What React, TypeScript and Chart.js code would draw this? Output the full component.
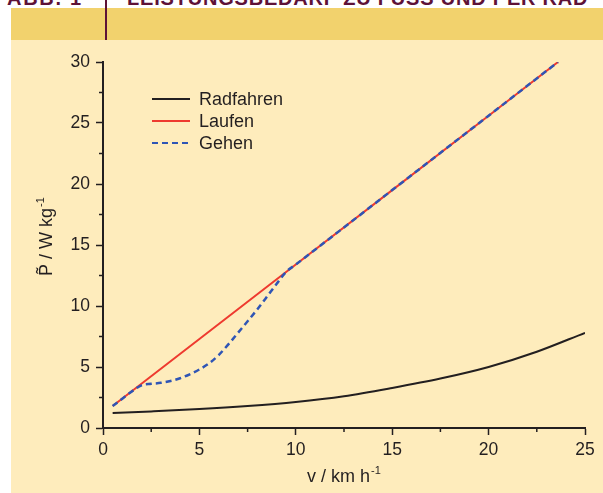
import React, { useEffect, useRef } from "react";
import { Chart, registerables } from "chart.js";

Chart.register(...registerables);

const radV = [0.5, 2.5, 5, 7.5, 10, 12.5, 15, 17.5, 20, 22.5, 25];
const radP = [1.23, 1.36, 1.55, 1.8, 2.13, 2.6, 3.28, 4.05, 5.0, 6.25, 7.8];

const laufV = [0.5, 5, 10, 15, 20, 23.6];
const laufP = [1.8, 7.3, 13.4, 19.5, 25.6, 30];

const gehenV = [0.5, 1, 1.5, 2, 2.5, 3, 3.5, 4, 4.5, 5, 5.5, 6, 6.5, 7, 7.5, 8, 8.5, 9, 9.5, 10, 15, 20, 23.6];
const gehenP = [1.8, 2.4, 3.0, 3.5, 3.62, 3.7, 3.85, 4.08, 4.4, 4.8, 5.3, 5.98, 6.85, 7.8, 8.75, 9.72, 10.75, 11.8, 12.8, 13.4, 19.5, 25.6, 30];

const seriesNames = ["Radfahren", "Laufen", "Gehen"];
const xTitleMain = "v / km h";
const yTitleMain = "P\u0303 / W kg";
const unitSup = "-1";
const headerLeft = "ABB. 1";
const headerRight = "LEISTUNGSBEDARF ZU FUSS UND PER RAD";

const INK = "#231f20";
const FONT = "'Liberation Sans', Arial, sans-serif";

const pts = (xs: number[], ys: number[]) => xs.map((x, i) => ({ x, y: ys[i] }));

const extrasPlugin = {
  id: "extras",
  afterDraw(chart: any) {
    const ctx = chart.ctx;
    const xs = chart.scales.x;
    const ys = chart.scales.y;
    const area = chart.chartArea;
    ctx.save();
    ctx.strokeStyle = INK;
    ctx.lineWidth = 1.5;
    // minor ticks
    for (let v = 2.5; v < 25; v += 5) {
      const px = xs.getPixelForValue(v);
      ctx.beginPath();
      ctx.moveTo(px, area.bottom);
      ctx.lineTo(px, area.bottom + 4);
      ctx.stroke();
    }
    for (let v = 2.5; v < 30; v += 5) {
      const py = ys.getPixelForValue(v);
      ctx.beginPath();
      ctx.moveTo(area.left, py);
      ctx.lineTo(area.left - 4, py);
      ctx.stroke();
    }
    // axis titles
    ctx.fillStyle = INK;
    ctx.textAlign = "left";
    ctx.textBaseline = "alphabetic";
    ctx.font = `18px ${FONT}`;
    const wMainX = ctx.measureText(xTitleMain).width;
    ctx.font = `11px ${FONT}`;
    const wSupX = ctx.measureText(unitSup).width;
    const totalX = wMainX + 1 + wSupX;
    const cx = (area.left + area.right) / 2 - totalX / 2;
    const baseX = area.bottom + 54;
    ctx.font = `18px ${FONT}`;
    ctx.fillText(xTitleMain, cx, baseX);
    ctx.font = `11px ${FONT}`;
    ctx.fillText(unitSup, cx + wMainX + 1, baseX - 8);

    ctx.save();
    ctx.translate(41, 236);
    ctx.rotate(-Math.PI / 2);
    ctx.font = `18px ${FONT}`;
    const wMainY = ctx.measureText(yTitleMain).width;
    ctx.fillText(yTitleMain, 0, 0);
    ctx.font = `11px ${FONT}`;
    ctx.fillText(unitSup, wMainY + 1, -8);
    ctx.restore();

    // legend
    const lx = area.left + 49;
    const ly = area.top + 37;
    const rowH = 22;
    ctx.font = `18px ${FONT}`;
    ctx.textBaseline = "middle";
    ctx.textAlign = "left";
    chart.data.datasets.forEach((ds: any, i: number) => {
      const y = ly + i * rowH;
      ctx.strokeStyle = ds.borderColor;
      ctx.lineWidth = 2;
      ctx.setLineDash(ds.borderDash || []);
      ctx.beginPath();
      ctx.moveTo(lx, y);
      ctx.lineTo(lx + 38, y);
      ctx.stroke();
      ctx.setLineDash([]);
      ctx.fillStyle = INK;
      ctx.fillText(ds.label, lx + 47, y + 1);
    });
    ctx.restore();
  },
};

function ChartView() {
  const ref = useRef<HTMLCanvasElement>(null);
  useEffect(() => {
    if (!ref.current) return;
    const chart = new Chart(ref.current, {
      type: "line",
      data: {
        datasets: [
          {
            label: seriesNames[0],
            data: pts(radV, radP),
            borderColor: "#231f20",
            borderWidth: 2,
            pointRadius: 0,
            cubicInterpolationMode: "monotone",
            order: 2,
          },
          {
            label: seriesNames[1],
            data: pts(laufV, laufP),
            borderColor: "#ee3a2f",
            borderWidth: 2,
            pointRadius: 0,
            order: 3,
          },
          {
            label: seriesNames[2],
            data: pts(gehenV, gehenP),
            borderColor: "#2f55b5",
            borderWidth: 2.5,
            borderDash: [6, 4],
            pointRadius: 0,
            cubicInterpolationMode: "monotone",
            order: 1,
          },
        ],
      } as any,
      options: {
        animation: false,
        responsive: false,
        maintainAspectRatio: false,
        layout: { padding: { top: 22, right: 18, left: 0, bottom: 0 } },
        plugins: { legend: { display: false }, tooltip: { enabled: false }, title: { display: false } },
        scales: {
          x: {
            type: "linear",
            min: 0,
            max: 25,
            afterFit: (s: any) => {
              s.height = 65;
            },
            ticks: { stepSize: 5, color: INK, font: { size: 17.5, family: FONT }, padding: 5, maxRotation: 0 },
            grid: { display: true, drawOnChartArea: false, drawTicks: true, tickLength: 7, tickColor: INK, tickWidth: 1.5 },
            border: { display: true, color: INK, width: 2 },
            title: { display: false },
          },
          y: {
            type: "linear",
            min: 0,
            max: 30,
            afterFit: (s: any) => {
              s.width = 92;
            },
            ticks: { stepSize: 5, color: INK, font: { size: 17.5, family: FONT }, padding: 6 },
            grid: { display: true, drawOnChartArea: false, drawTicks: true, tickLength: 7, tickColor: INK, tickWidth: 1.5 },
            border: { display: true, color: INK, width: 2 },
            title: { display: false },
          },
        },
      } as any,
      plugins: [extrasPlugin],
    });
    return () => chart.destroy();
  }, []);
  return <canvas ref={ref} width={592} height={453} style={{ display: "block", width: 592, height: 453 }} />;
}

export default function App() {
  return (
    <div style={{ position: "fixed", left: 0, top: 0, width: 603, height: 493, background: "#ffffff", overflow: "hidden" }}>
      <div style={{ position: "absolute", left: 0, top: 0, width: 603, height: 8, overflow: "hidden" }}>
        <div style={{ position: "absolute", left: 7, top: -12, font: `bold 20px ${FONT}`, lineHeight: "20px", color: "#5e1237", whiteSpace: "nowrap", letterSpacing: 1.7 }}>
          {headerLeft}
        </div>
        <div style={{ position: "absolute", left: 127, top: -12, font: `bold 20px ${FONT}`, lineHeight: "20px", color: "#5e1237", whiteSpace: "nowrap", letterSpacing: 0.8 }}>
          {headerRight}
        </div>
      </div>
      <div style={{ position: "absolute", left: 11, top: 8, width: 592, height: 32, background: "#f2d26d" }} />
      <div style={{ position: "absolute", left: 105, top: 0, width: 2, height: 40, background: "#5e1237" }} />
      <div style={{ position: "absolute", left: 11, top: 40, width: 592, height: 453, background: "#feecbc" }}>
        <ChartView />
      </div>
    </div>
  );
}
